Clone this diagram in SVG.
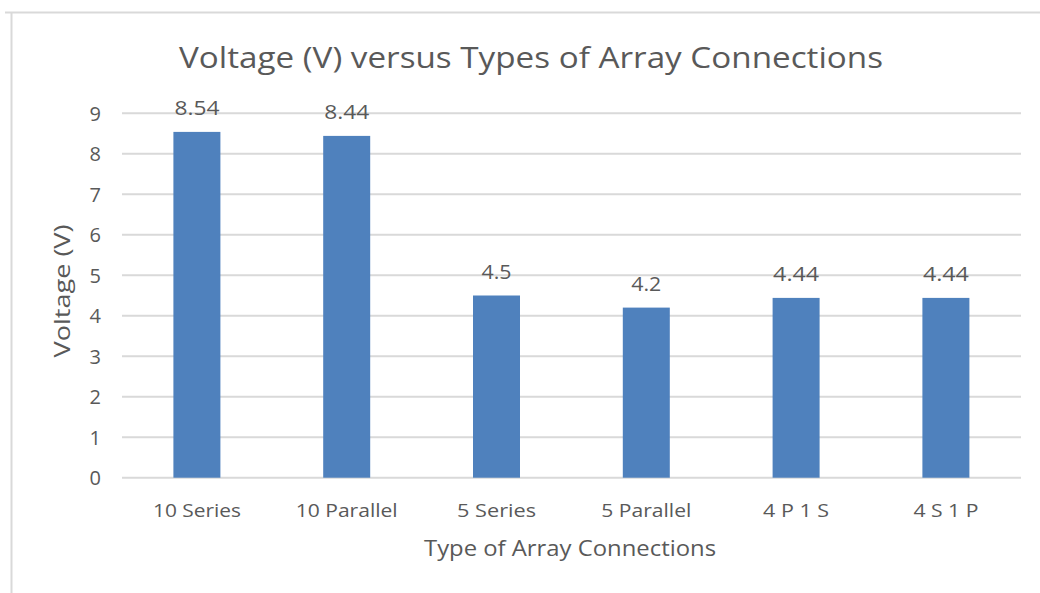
<svg xmlns="http://www.w3.org/2000/svg" width="1040" height="593" viewBox="0 0 1040 593">
<style>
.t{font-family:"Open Sans","Liberation Sans",sans-serif;fill:#595959}
.tick{font-size:20px;text-anchor:end}
.cat{font-size:19px;text-anchor:middle}
.val{font-size:20px;text-anchor:middle}
.grid{stroke:#D9D9D9;stroke-width:2}
.bar{fill:#4F81BD}
</style>
<rect x="0" y="0" width="1040" height="593" fill="#fff"/>
<path d="M5 12.5H1040M11.5 12V593" stroke="#D9D9D9" stroke-width="2" fill="none"/>
<text class="t" x="531" y="68" font-size="30" text-anchor="middle" textLength="704" lengthAdjust="spacingAndGlyphs">Voltage (V) versus Types of Array Connections</text>
<g id="grid">
<path class="grid" d="M122 113.3H1021M122 153.8H1021M122 194.3H1021M122 234.8H1021M122 275.3H1021M122 315.7H1021M122 356.2H1021M122 396.7H1021M122 437.2H1021M122 477.7H1021"/>
</g>
<g id="yticks" class="t tick">
<text x="101" y="120.5">9</text>
<text x="101" y="161">8</text>
<text x="101" y="201.5">7</text>
<text x="101" y="242">6</text>
<text x="101" y="282.5">5</text>
<text x="101" y="323">4</text>
<text x="101" y="363.5">3</text>
<text x="101" y="404">2</text>
<text x="101" y="444.5">1</text>
<text x="101" y="485">0</text>
</g>
<g id="bar1"><rect class="bar" x="173.4" y="131.9" width="47" height="345.8"/><text class="t val" x="197" y="115" textLength="45" lengthAdjust="spacingAndGlyphs">8.54</text><text class="t cat" x="197" y="517" textLength="88" lengthAdjust="spacingAndGlyphs">10 Series</text></g>
<g id="bar2"><rect class="bar" x="323.2" y="135.9" width="47" height="341.8"/><text class="t val" x="346.7" y="119" textLength="45" lengthAdjust="spacingAndGlyphs">8.44</text><text class="t cat" x="346.7" y="517" textLength="102" lengthAdjust="spacingAndGlyphs">10 Parallel</text></g>
<g id="bar3"><rect class="bar" x="473" y="295.5" width="47" height="182.2"/><text class="t val" x="496.5" y="279" textLength="30" lengthAdjust="spacingAndGlyphs">4.5</text><text class="t cat" x="496.5" y="517" textLength="79" lengthAdjust="spacingAndGlyphs">5 Series</text></g>
<g id="bar4"><rect class="bar" x="622.8" y="307.6" width="47" height="170.1"/><text class="t val" x="646.3" y="291" textLength="30" lengthAdjust="spacingAndGlyphs">4.2</text><text class="t cat" x="646.3" y="517" textLength="90" lengthAdjust="spacingAndGlyphs">5 Parallel</text></g>
<g id="bar5"><rect class="bar" x="772.6" y="297.9" width="47" height="179.8"/><text class="t val" x="796.1" y="281" textLength="46" lengthAdjust="spacingAndGlyphs">4.44</text><text class="t cat" x="796.1" y="517" textLength="66" lengthAdjust="spacingAndGlyphs">4 P 1 S</text></g>
<g id="bar6"><rect class="bar" x="922.4" y="297.9" width="47" height="179.8"/><text class="t val" x="945.9" y="281" textLength="46" lengthAdjust="spacingAndGlyphs">4.44</text><text class="t cat" x="945.9" y="517" textLength="65" lengthAdjust="spacingAndGlyphs">4 S 1 P</text></g>
<text class="t" x="570" y="556" font-size="22" text-anchor="middle" textLength="292" lengthAdjust="spacingAndGlyphs">Type of Array Connections</text>
<text class="t" transform="translate(70 291) rotate(-90)" font-size="22" text-anchor="middle" textLength="133" lengthAdjust="spacingAndGlyphs">Voltage (V)</text>
</svg>
